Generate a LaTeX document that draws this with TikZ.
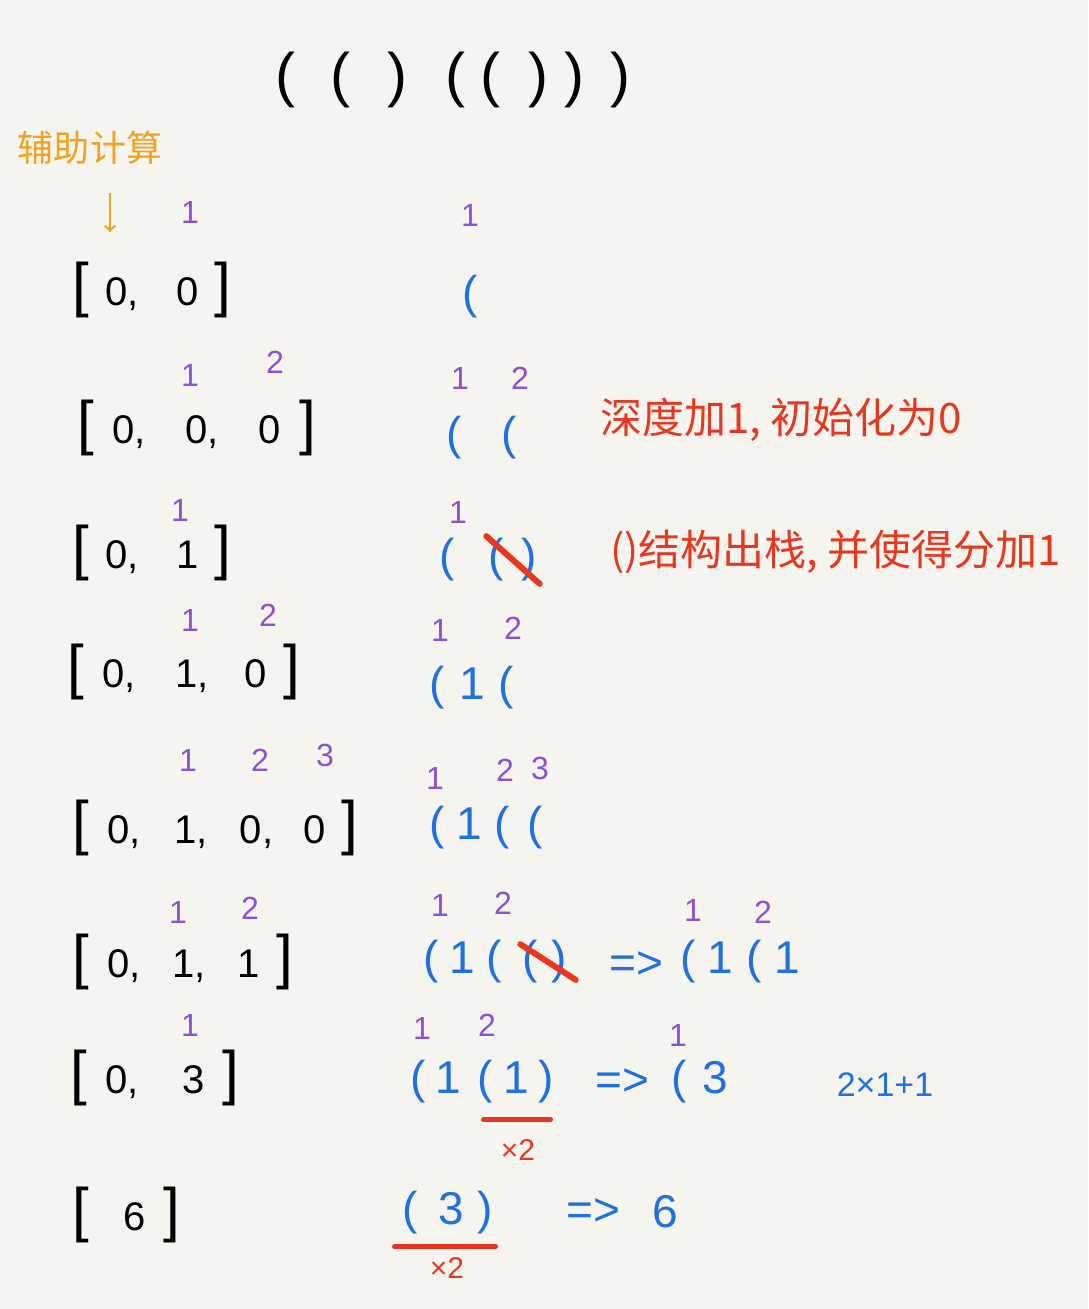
\documentclass[tikz,border=0pt]{standalone}
\usepackage{fontspec}
\setmainfont{Liberation Sans}
\newfontfamily\cjk{Noto Sans CJK SC}

\definecolor{paper}{HTML}{F6F4EE}
\definecolor{penblue}{HTML}{1F6FE5}
\definecolor{penred}{HTML}{E8371E}
\definecolor{penpurple}{HTML}{8B52D6}
\definecolor{penorange}{HTML}{F2A21E}

\newcommand{\lbrk}{{\fontsize{30}{30}\selectfont[}}
\newcommand{\rbrk}{{\fontsize{30}{30}\selectfont]}}

\tikzset{
  arr/.style={font=\fontsize{20}{20}\selectfont,inner sep=1pt,anchor=west},
  stk/.style={text=penblue,font=\fontsize{23}{23}\selectfont,inner sep=1pt},
  idx/.style={text=penpurple,font=\fontsize{16}{16}\selectfont,inner sep=0pt},
  note/.style={text=penred,font=\cjk\fontsize{21}{21}\selectfont,inner sep=0pt,anchor=west},
  times/.style={text=penred,font=\fontsize{15}{15}\selectfont,inner sep=0pt},
  cross/.style={penred,line width=3pt,line cap=round},
}

\begin{document}
\begin{tikzpicture}[x=.5pt,y=-.5pt]
  \fill[paper] (0,0) rectangle (1088,1309);
  % the input string
  \foreach \x/\p [count=\i] in {285/(,340/(,397/),455/(,490/(,538/),574/),620/)}
           {\node[font=\fontsize{30}{30}\selectfont] (top\i) at (\x,80) {\p};}
  %
  \node[text=penorange,font=\cjk\fontsize{18}{18}\selectfont,inner sep=0pt] (aux) at (90,148) {辅助计算};
  \coordinate (auxend) at (110,232);
  \draw[penorange,line width=1.2pt,->] ([yshift=-14pt]aux.south -| auxend) -- (auxend);
  %
  \begin{scope}
    \node[arr] (a1) at (70,290) {\lbrk\hspace{8pt}0,\hspace{19pt}0\hspace{8pt}\rbrk};
    \node[arr] (a2) at (75,428) {\lbrk\hspace{9pt}0,\hspace{20pt}0,\hspace{20pt}0\hspace{9pt}\rbrk};
    \node[arr] (a3) at (70,553) {\lbrk\hspace{8pt}0,\hspace{19pt}1\hspace{8pt}\rbrk};
    \node[arr] (a4) at (65,672) {\lbrk\hspace{9pt}0,\hspace{20pt}1,\hspace{18pt}0\hspace{8pt}\rbrk};
    \node[arr] (a5) at (70,828) {\lbrk\hspace{9pt}0,\hspace{17pt}1,\hspace{16pt}0,\hspace{15pt}0\hspace{8pt}\rbrk};
    \node[arr] (a6) at (70,962) {\lbrk\hspace{9pt}0,\hspace{16pt}1,\hspace{16pt}1\hspace{8pt}\rbrk};
    \node[arr] (a7) at (68,1078) {\lbrk\hspace{9pt}0,\hspace{22pt}3\hspace{9pt}\rbrk};
    \node[arr] (a8) at (70,1215) {\lbrk\hspace{17pt}6\hspace{9pt}\rbrk};
  \end{scope}
  %
  \begin{scope}
    \node[stk] (b1) at (470,297) {(};
    \node[stk] (b2) at (482,438) {(\hspace{20pt}(};
    \node[stk] (b3a) at (447,560) {(};
    \node[stk] (b3b) at (513,560) {(\hspace{9pt})};
    \node[stk] (b4) at (472,688) {(\hspace{7pt}1\hspace{7pt}(};
    \node[stk] (b5) at (486,828) {(\hspace{6pt}1\hspace{6pt}(\hspace{9pt}(};
    \node[stk] (b6a) at (463,962) {(\hspace{5pt}1\hspace{6pt}(};
    \node[stk] (b6b) at (545,962) {(\hspace{7pt})};
    \node[stk] (b6r) at (636,965) {=>};
    \node[stk] (b6c) at (740,962) {(\hspace{6pt}1\hspace{7pt}(\hspace{6pt}1};
    \node[stk] (b7a) at (436,1082) {(\hspace{5pt}1};
    \node[stk] (b7b) at (516,1082) {(\hspace{5pt}1\hspace{5pt})};
    \node[stk] (b7r) at (622,1082) {=>};
    \node[stk] (b7c) at (700,1082) {(\hspace{8pt}3};
    \node[stk,font=\fontsize{17}{17}\selectfont] (b7s) at (885,1085) {2×1+1};
    \node[stk] (b8) at (448,1213) {(\hspace{10pt}3\hspace{7pt})};
    \node[stk] (b8r) at (593,1212) {=>};
    \node[stk] (b8c) at (665,1212) {6};
  \end{scope}
  % pairs that leave the stack
  \draw[cross] (b3b.north west) -- (b3b.south east);
  \draw[cross] ([yshift=-3pt]b6b.north west) -- ([xshift=3pt,yshift=3pt]b6b.south east);
  % doubled scores
  \draw[cross,line width=2.5pt] ([xshift=4pt,yshift=-7pt]b7b.south west) -- ([xshift=-3pt,yshift=-7pt]b7b.south east);
  \node[times] (t7) at (518,1150) {×2};
  \draw[cross,line width=2.5pt] ([xshift=-3pt,yshift=-5pt]b8.south west) -- ([yshift=-5pt]b8.south east);
  \node[times] (t8) at (447,1268) {×2};
  %
  \foreach \x/\y/\n [count=\i] in {190/212/1,470/215/1,
           190/375/1,275/362/2,460/378/1,520/378/2,
           180/510/1,458/512/1,
           190/620/1,268/615/2,440/630/1,513/628/2,
           188/760/1,260/760/2,325/755/3,435/778/1,505/770/2,540/768/3,
           178/912/1,250/908/2,440/905/1,503/903/2,693/910/1,763/912/2,
           190/1025/1,422/1028/1,487/1025/2,678/1035/1}
           {\node[idx] (idx\i) at (\x,\y) {\n};}
  %
  \node[note] (n1) at (600,420) {深度加1, 初始化为0};
  \node[note] (n2) at (610,552) {()结构出栈, 并使得分加1};
\end{tikzpicture}
\end{document}
